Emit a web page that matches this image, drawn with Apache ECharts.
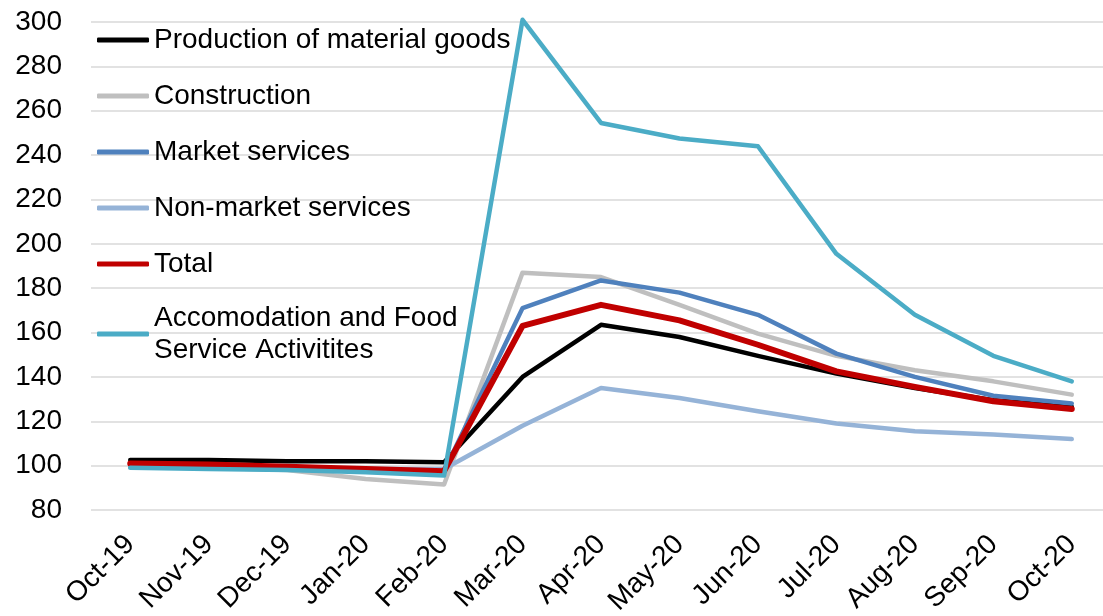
<!DOCTYPE html>
<html>
<head>
<meta charset="utf-8">
<script src="https://cdn.jsdelivr.net/npm/echarts@6/dist/echarts.min.js"></script>
<style>
  html, body { margin: 0; padding: 0; background: #fff; }
  #chart { width: 1103px; height: 616px; }
</style>
</head>
<body>
<div id="chart"></div>
<script>
// Monthly index values, Oct-19 .. Oct-20
const months = ['Oct-19', 'Nov-19', 'Dec-19', 'Jan-20', 'Feb-20', 'Mar-20', 'Apr-20',
                'May-20', 'Jun-20', 'Jul-20', 'Aug-20', 'Sep-20', 'Oct-20'];

const production    = [102.5, 102.5, 102, 102, 101.5, 140, 163.5, 158, 149.5, 141.5, 135, 129.5, 126.5];
const construction  = [99.5, 99, 98, 94, 91.5, 187, 185, 172.5, 159.5, 149.5, 143, 138, 132];
const marketSvc     = [99.5, 99, 98.5, 98, 97.5, 171, 183.5, 178, 168, 150.5, 140, 131.5, 128];
const nonMarketSvc  = [99.5, 99.5, 99, 98.5, 98.5, 118, 135, 130.5, 124.5, 119, 115.5, 114, 112];
const total         = [101, 100.5, 99.5, 98.5, 97.5, 163, 172.5, 165.5, 154.5, 142.5, 135.5, 129, 125.5];
const accommodation = [99, 98.5, 98, 97, 95.5, 301, 254.5, 247.5, 244, 195.5, 168, 149.5, 138];

const yTicks = { min: 80, max: 300, step: 20 };

const FONT = '"Liberation Sans", Arial, sans-serif';

function lineSeries(name, data, color, width) {
  return {
    name: name,
    type: 'line',
    data: data,
    symbol: 'none',
    clip: false,
    lineStyle: { color: color, width: width, cap: 'round', join: 'round' },
    itemStyle: { color: color },
    emphasis: { disabled: true }
  };
}

const chart = echarts.init(document.getElementById('chart'), null, { renderer: 'canvas' });

chart.setOption({
  animation: false,
  backgroundColor: '#ffffff',
  grid: { left: 91, top: 22, bottom: 106, width: 1020, containLabel: false, outerBoundsMode: 'none' },
  legend: {
    orient: 'vertical',
    left: 97,
    top: 24,
    padding: 0,
    icon: 'roundRect',
    itemWidth: 52,
    itemHeight: 5,
    itemGap: 24,
    selectedMode: false,
    textStyle: { fontFamily: FONT, fontSize: 28, color: '#000', lineHeight: 32 },
    data: [
      'Production of material goods',
      'Construction',
      'Market services',
      'Non-market services',
      'Total',
      { name: 'Accomodation and Food\nService Activitites',
        textStyle: { padding: [0, 0, -32, 0] } }
    ]
  },
  xAxis: {
    type: 'category',
    data: months,
    boundaryGap: true,
    axisLine: { show: false },
    axisTick: { show: false },
    axisLabel: {
      interval: 0,
      rotate: 45,
      margin: 30,
      fontFamily: FONT,
      fontSize: 28,
      color: '#000'
    }
  },
  yAxis: {
    type: 'value',
    min: yTicks.min,
    max: yTicks.max,
    interval: yTicks.step,
    axisLine: { show: false },
    axisTick: { show: false },
    axisLabel: { margin: 29, fontFamily: FONT, fontSize: 28, color: '#000' },
    splitLine: { lineStyle: { color: '#d9d9d9', width: 1.5 } }
  },
  series: [
    lineSeries('Production of material goods', production, '#000000', 4.5),
    lineSeries('Construction', construction, '#bfbfbf', 4.5),
    lineSeries('Market services', marketSvc, '#4f81bd', 4.5),
    lineSeries('Non-market services', nonMarketSvc, '#95b3d7', 4.5),
    lineSeries('Total', total, '#c00000', 6),
    lineSeries('Accomodation and Food\nService Activitites', accommodation, '#4bacc6', 4.5)
  ]
});
</script>
</body>
</html>
